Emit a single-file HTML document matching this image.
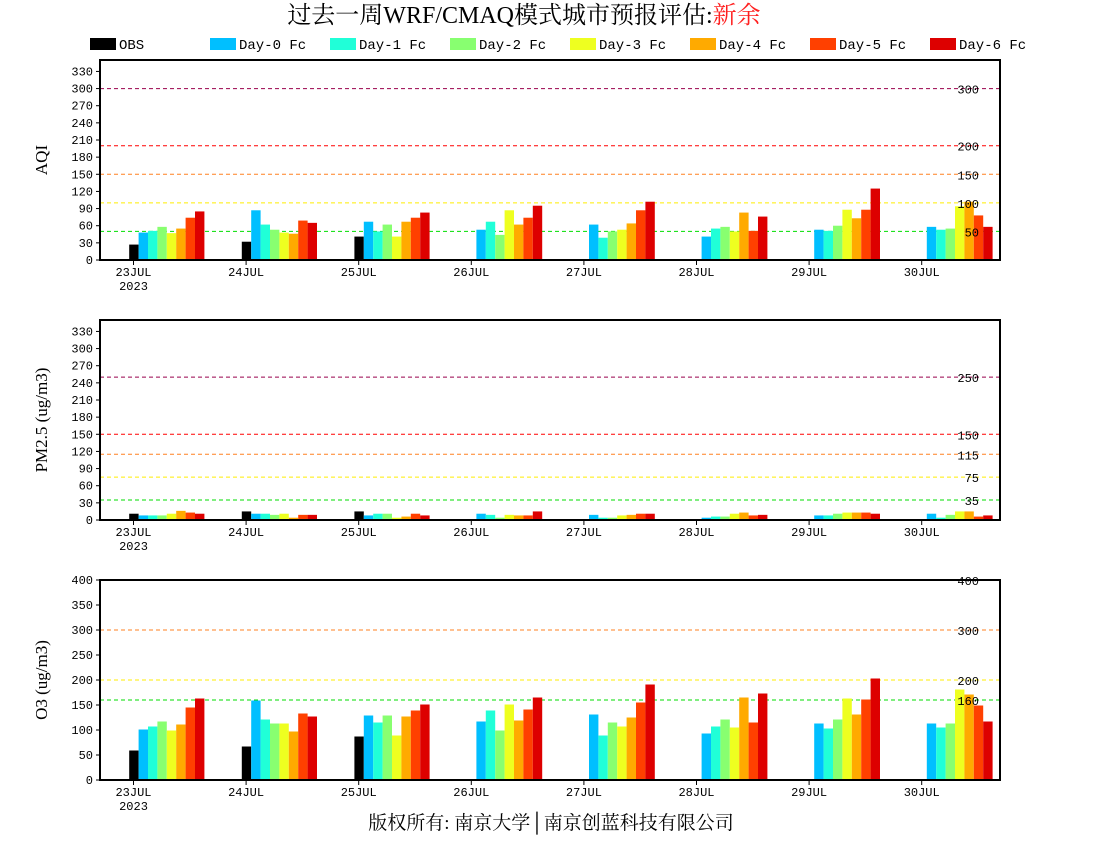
<!DOCTYPE html>
<html><head><meta charset="utf-8"><style>
body{margin:0;background:#fff;width:1100px;height:850px;overflow:hidden}
svg{display:block}
</style></head><body>
<svg id="chart" width="1100" height="850" xmlns="http://www.w3.org/2000/svg" font-family="'Liberation Mono', monospace">
<text x="524" y="23" text-anchor="middle" font-family="'Liberation Serif','Noto Serif CJK SC',serif" font-size="24">过去一周WRF/CMAQ模式城市预报评估:<tspan fill="#ff2020">新余</tspan></text>
<text x="551" y="829" text-anchor="middle" font-family="'Liberation Serif','Noto Serif CJK SC',serif" font-size="19">版权所有: 南京大学│南京创蓝科技有限公司</text>
<g id="legend"></g>
<g id="panels"></g>
</svg>
<script>
const dates = ["23JUL","24JUL","25JUL","26JUL","27JUL","28JUL","29JUL","30JUL"];
const seriesNames = ["OBS","Day-0 Fc","Day-1 Fc","Day-2 Fc","Day-3 Fc","Day-4 Fc","Day-5 Fc","Day-6 Fc"];
const seriesColors = ["#000000","#00bfff","#20ffd8","#88ff70","#eeff20","#ffaa00","#ff4000","#dd0000"];
const aqiValues = [
 [27,48,51,58,47,55,74,85],
 [32,87,62,53,48,46,69,65],
 [41,67,50,62,41,67,74,83],
 [null,53,67,44,87,62,74,95],
 [null,62,39,50,53,64,87,102],
 [null,41,55,58,50,83,51,76],
 [null,53,51,60,88,73,88,125],
 [null,58,53,55,94,102,78,58]];
const pmValues = [
 [11,8,8,8,11,16,13,11],
 [15,11,11,9,11,4,9,9],
 [15,8,11,11,4,6,11,8],
 [null,11,9,4,9,8,8,15],
 [null,9,4,4,8,9,11,11],
 [null,4,6,6,11,13,8,9],
 [null,8,8,11,13,13,13,11],
 [null,11,4,9,15,15,6,8]];
const o3Values = [
 [59,101,107,117,99,111,145,163],
 [67,159,121,113,113,97,133,127],
 [87,129,115,129,89,127,139,151],
 [null,117,139,99,151,119,141,165],
 [null,131,89,115,107,125,155,191],
 [null,93,107,121,105,165,115,173],
 [null,113,103,121,163,131,161,203],
 [null,113,105,113,181,171,149,117]];
const aqiTicks = [0,30,60,90,120,150,180,210,240,270,300,330];
const o3Ticks = [0,50,100,150,200,250,300,350,400];
const aqiRefs = [300,200,150,100,50];
const aqiRefColors = ["#99004c","#ff0000","#ff8020","#ffee00","#00dd00"];
const pmRefs = [250,150,115,75,35];
const pmRefColors = ["#99004c","#ff0000","#ff8020","#ffee00","#00dd00"];
const o3Refs = [400,300,200,160];
const o3RefColors = ["#ff0000","#ff8020","#ffee00","#00dd00"];

const NS="http://www.w3.org/2000/svg";
function mk(tag,attrs,parent,text){const e=document.createElementNS(NS,tag);for(const k in attrs)e.setAttribute(k,attrs[k]);if(text!==undefined)e.textContent=text;parent.appendChild(e);return e;}
const L=100,R=1000,W=R-L;
function xTick(i){return 133.5+112.6*i;}

const legend=document.getElementById('legend');
seriesNames.forEach((n,k)=>{
  const x = k===0?90:210+120*(k-1);
  const s=mk('rect',{x:x,y:38,width:26,height:12,fill:seriesColors[k]},legend);
  
  
  const t=mk('text',{x:x+29,y:49,'font-size':14},legend,n);
  
  
});

function panel(name,top,bottom,ymax,ticks,vals,refs,refColors,title){
  const g=mk('g',{},document.getElementById('panels'));
  
  
  const y=v=>bottom-(v/ymax)*(bottom-top);
  refs.forEach((r,i)=>{
    const ln=mk('line',{x1:L,x2:R,y1:y(r),y2:y(r),stroke:refColors[i],'stroke-width':1,'stroke-dasharray':'4,3'},g);
    
    
  });
  vals.forEach((row,d)=>{
    row.forEach((v,k)=>{
      if(v===null)return;
      const x=xTick(d)-4.3+k*9.4;
      const b=mk('rect',{x:x,y:y(v),width:9.4,height:bottom-y(v),fill:seriesColors[k]},g);
      
      
    });
  });
  refs.forEach((r,i)=>{
    const t=mk('text',{x:979,y:y(r)+5,'text-anchor':'end','font-size':12},g,String(r));
    
    
  });
  const fr=mk('rect',{x:L,y:top,width:W,height:bottom-top,fill:'none',stroke:'#000','stroke-width':2},g);
  
  
  ticks.forEach(tv=>{
    mk('line',{x1:L-4,x2:L,y1:y(tv),y2:y(tv),stroke:'#000'},g);
    const t=mk('text',{x:L-7,y:y(tv)+4,'text-anchor':'end','font-size':12},g,String(tv));
    
    
  });
  dates.forEach((dl,d)=>{
    mk('line',{x1:xTick(d),x2:xTick(d),y1:bottom,y2:bottom+5,stroke:'#000'},g);
    const t=mk('text',{x:xTick(d),y:bottom+16,'text-anchor':'middle','font-size':12},g,dl);
    
    
  });
  const yr=mk('text',{x:xTick(0),y:bottom+30,'text-anchor':'middle','font-size':12},g,'2023');
  
  
  const cy=(top+bottom)/2;
  const at=mk('text',{x:47,y:cy,'text-anchor':'middle','font-size':17,'font-family':"'Liberation Serif',serif",transform:`rotate(-90 47 ${cy})`},g,title);
  
  
}
panel('aqi',60,260,350,aqiTicks,aqiValues,aqiRefs,aqiRefColors,'AQI');
panel('pm25',320,520,350,aqiTicks,pmValues,pmRefs,pmRefColors,'PM2.5 (ug/m3)');
panel('o3',580,780,400,o3Ticks,o3Values,o3Refs,o3RefColors,'O3 (ug/m3)');
</script>
</body></html>
